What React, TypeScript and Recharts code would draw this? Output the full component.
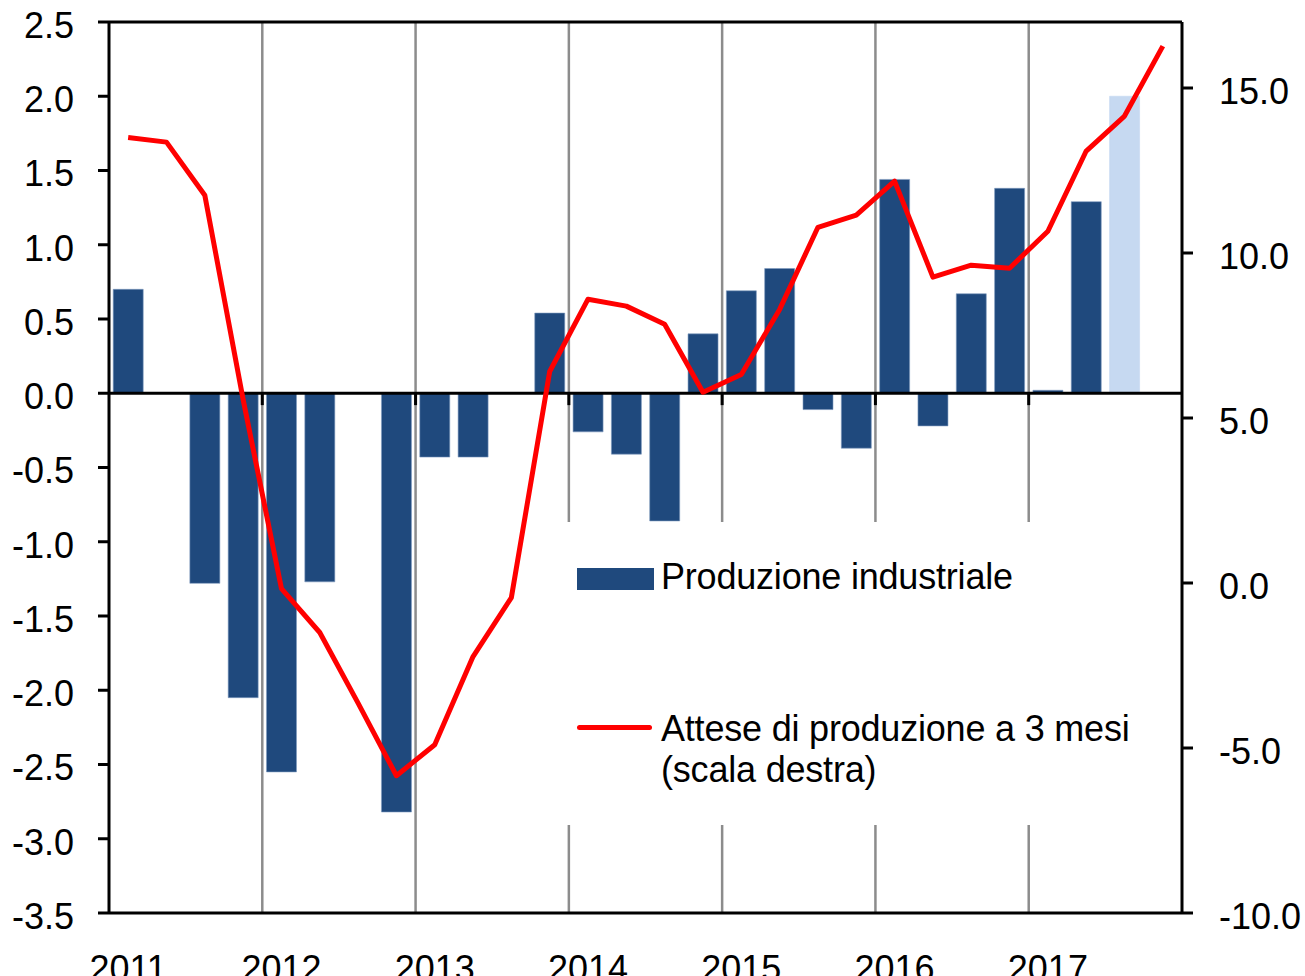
import React from "react"
import {
  ComposedChart,
  Bar,
  Line,
  XAxis,
  YAxis,
  ReferenceLine,
  Cell,
  Legend,
} from "recharts"

// trimestri 2011-2017
const anni = ["2011", "2012", "2013", "2014", "2015", "2016", "2017"]
const trimestri = anni.flatMap((a) => ["T1", "T2", "T3", "T4"].map((t) => `${a} ${t}`))

// produzione industriale, var. % congiunturale (scala sinistra)
const produzione = [
  0.7, null, -1.28, -2.05,
  -2.55, -1.27, null, -2.82,
  -0.43, -0.43, null, 0.54,
  -0.26, -0.41, -0.86, 0.4,
  0.69, 0.84, -0.11, -0.37,
  1.44, -0.22, 0.67, 1.38,
  0.02, 1.29, 2.0, null,
]

// l'ultimo dato e' una stima
const stima = [
  false, false, false, false,
  false, false, false, false,
  false, false, false, false,
  false, false, false, false,
  false, false, false, false,
  false, false, false, false,
  false, false, true, false,
]

// attese di produzione a 3 mesi (scala destra)
const attese = [
  13.5, 13.36, 11.75, 5.56,
  -0.17, -1.5, -3.64, -5.84,
  -4.9, -2.23, -0.44, 6.41,
  8.6, 8.39, 7.84, 5.78,
  6.32, 8.29, 10.78, 11.15,
  12.18, 9.27, 9.63, 9.54,
  10.66, 13.09, 14.15, 16.27,
]

const tickSinistra = [-3.5, -3, -2.5, -2, -1.5, -1, -0.5, 0, 0.5, 1, 1.5, 2, 2.5]
const tickDestra = [-10, -5, 0, 5, 10, 15]
// separatori d'anno all'inizio del primo trimestre
const inizioAnno = anni.slice(1).map((a) => `${a} T1`)

const data = trimestri.map((t, i) => ({
  periodo: t,
  produzione: produzione[i],
  attese: attese[i],
}))

const FONT = "'Liberation Sans', Arial, sans-serif"
const BLU = "#1F497D"
const AZZURRO = "#C6D9F1"
const ROSSO = "#FF0000"
const GRIGIO = "#8C8C8C"

const tickStyle = { fontSize: 36, fill: "#000", fontFamily: FONT }

function Legenda() {
  const testo: React.CSSProperties = {
    position: "absolute",
    left: 105,
    fontSize: 36,
    lineHeight: "41px",
    fontFamily: FONT,
    color: "#000",
    letterSpacing: -0.2,
    whiteSpace: "nowrap",
  }
  return (
    <div style={{ position: "relative", width: "100%", height: "100%" }}>
      <div style={{ position: "absolute", left: 21, top: 46, width: 77, height: 22, background: BLU }} />
      <div style={{ ...testo, top: 34 }}>Produzione industriale</div>
      <div style={{ position: "absolute", left: 21, top: 203, width: 75, height: 5, borderRadius: 3, background: ROSSO }} />
      <div style={{ ...testo, top: 186 }}>
        Attese di produzione a 3 mesi
        <br />
        (scala destra)
      </div>
    </div>
  )
}

export default function App() {
  return (
    <div style={{ width: 1305, height: 976, overflow: "hidden", position: "relative", background: "#fff" }}>
      <style>{`body{margin:0}`}</style>
      <ComposedChart
        width={1305}
        height={976}
        data={data}
        margin={{ top: 22, right: 0, bottom: 0, left: 0 }}
        barCategoryGap="11%"
      >
        <XAxis
          dataKey="periodo"
          interval={0}
          height={63}
          tickLine={false}
          axisLine={{ stroke: "#000", strokeWidth: 3 }}
          tick={tickStyle}
          tickMargin={36}
          tickFormatter={(v: string) => (v.endsWith("T1") ? v.slice(0, 4) : "")}
        />
        <YAxis
          yAxisId="left"
          domain={[-3.5, 2.5]}
          ticks={tickSinistra}
          interval={0}
          width={109}
          tickSize={11}
          tickMargin={24}
          allowDataOverflow
          axisLine={{ stroke: "#000", strokeWidth: 3 }}
          tickLine={{ stroke: "#000", strokeWidth: 3 }}
          tick={{ ...tickStyle, dy: 3 }}
          tickFormatter={(v: number) => v.toFixed(1)}
        />
        <YAxis
          yAxisId="right"
          orientation="right"
          domain={[-10, 17]}
          ticks={tickDestra}
          interval={0}
          width={123}
          tickSize={11}
          tickMargin={26}
          allowDataOverflow
          axisLine={{ stroke: "#000", strokeWidth: 3 }}
          tickLine={{ stroke: "#000", strokeWidth: 3 }}
          tick={{ ...tickStyle, dy: 3 }}
          tickFormatter={(v: number) => v.toFixed(1)}
        />
        {inizioAnno.map((x) => (
          <ReferenceLine
            key={`g${x}`}
            yAxisId="left"
            x={x}
            position="start"
            stroke={GRIGIO}
            strokeWidth={2.5}
          />
        ))}
        <ReferenceLine yAxisId="left" y={2.5} stroke="#000" strokeWidth={3} />
        <Bar yAxisId="left" dataKey="produzione" isAnimationActive={false} strokeWidth={0.6}>
          {data.map((d, i) => (
            <Cell key={d.periodo} fill={stima[i] ? AZZURRO : BLU} stroke={stima[i] ? AZZURRO : "#7F9BC0"} />
          ))}
        </Bar>
        <ReferenceLine yAxisId="left" y={0} stroke="#000" strokeWidth={3} />
        {inizioAnno.map((x) => (
          <ReferenceLine
            key={`t${x}`}
            yAxisId="left"
            position="start"
            segment={[
              { x, y: 0 },
              { x, y: -0.08 },
            ]}
            stroke="#000"
            strokeWidth={3}
          />
        ))}
        <Line
          yAxisId="right"
          type="linear"
          dataKey="attese"
          stroke={ROSSO}
          strokeWidth={5}
          dot={false}
          strokeLinejoin="round"
          isAnimationActive={false}
        />
        <Legend
          layout="horizontal"
          verticalAlign="middle"
          align="center"
          content={() => <Legenda />}
          wrapperStyle={{
            position: "absolute",
            left: 556,
            top: 522,
            width: 614,
            height: 303,
            background: "#fff",
          }}
        />
      </ComposedChart>
    </div>
  )
}
